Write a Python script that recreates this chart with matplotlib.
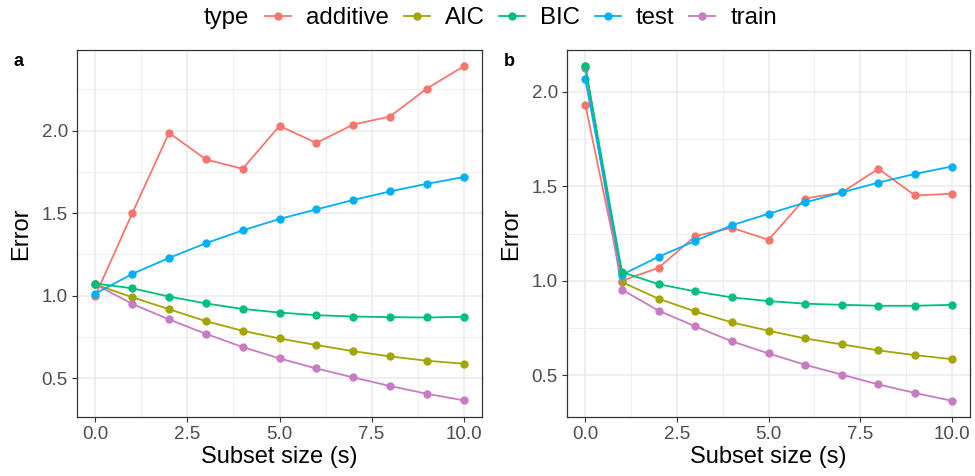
import matplotlib
matplotlib.use("Agg")
import matplotlib.pyplot as plt
from matplotlib.lines import Line2D
from matplotlib.ticker import MultipleLocator

plt.rcParams['font.family'] = ['Liberation Sans', 'DejaVu Sans']

subset = list(range(11))
types = ['additive', 'AIC', 'BIC', 'test', 'train']
colors = {'additive': '#F8766D', 'AIC': '#A3A500', 'BIC': '#00BF7D',
          'test': '#00B0F6', 'train': '#C77BC4'}

# panel a
a_additive = [1.000, 1.498, 1.986, 1.825, 1.768, 2.028, 1.925, 2.036, 2.085, 2.254, 2.389]
a_aic = [1.067, 0.990, 0.917, 0.845, 0.786, 0.740, 0.700, 0.663, 0.631, 0.605, 0.587]
a_bic = [1.073, 1.044, 0.994, 0.952, 0.919, 0.897, 0.881, 0.873, 0.869, 0.867, 0.871]
a_test = [1.012, 1.131, 1.228, 1.317, 1.395, 1.464, 1.522, 1.579, 1.631, 1.677, 1.718]
a_train = [1.067, 0.950, 0.855, 0.768, 0.688, 0.619, 0.558, 0.504, 0.452, 0.405, 0.365]

# panel b
b_additive = [1.931, 1.000, 1.069, 1.236, 1.280, 1.217, 1.435, 1.467, 1.592, 1.451, 1.460]
b_aic = [2.134, 0.993, 0.905, 0.838, 0.780, 0.736, 0.695, 0.664, 0.632, 0.607, 0.586]
b_bic = [2.134, 1.046, 0.982, 0.944, 0.912, 0.893, 0.879, 0.873, 0.868, 0.868, 0.873]
b_test = [2.065, 1.032, 1.127, 1.211, 1.294, 1.354, 1.414, 1.467, 1.519, 1.565, 1.604]
b_train = [2.123, 0.953, 0.842, 0.759, 0.680, 0.616, 0.556, 0.504, 0.452, 0.407, 0.366]

panels = [
    ('a', {'additive': a_additive, 'AIC': a_aic, 'BIC': a_bic, 'test': a_test, 'train': a_train},
     (0.264, 2.488)),
    ('b', {'additive': b_additive, 'AIC': b_aic, 'BIC': b_bic, 'test': b_test, 'train': b_train},
     (0.28, 2.22)),
]

W, H = 975, 476
fig = plt.figure(figsize=(W / 100, H / 100), dpi=100)
boxes = [(77, 482), (567, 970)]
top_px, bot_px = 50, 417

# drawing order so that BIC point stays visible at s=0 like the original
draw_order = ['additive', 'AIC', 'train', 'test', 'BIC']

for (label, series, ylim), (x0, x1) in zip(panels, boxes):
    ax = fig.add_axes([x0 / W, (H - bot_px) / H, (x1 - x0) / W, (bot_px - top_px) / H])
    for name in draw_order:
        ax.plot(subset, series[name], color=colors[name], lw=1.3, marker='o',
                ms=6, markeredgewidth=0, zorder=3)
    ax.set_xlim(-0.5, 10.5)
    ax.set_ylim(*ylim)
    ax.xaxis.set_major_locator(MultipleLocator(2.5))
    ax.xaxis.set_minor_locator(MultipleLocator(1.25))
    ax.yaxis.set_major_locator(MultipleLocator(0.5))
    ax.yaxis.set_minor_locator(MultipleLocator(0.25))
    ax.xaxis.set_major_formatter(matplotlib.ticker.FormatStrFormatter('%.1f'))
    ax.yaxis.set_major_formatter(matplotlib.ticker.FormatStrFormatter('%.1f'))
    ax.grid(which='major', color='#EBEBEB', lw=1.1, zorder=0)
    ax.grid(which='minor', color='#EBEBEB', lw=0.55, zorder=0)
    ax.set_axisbelow(True)
    ax.tick_params(which='major', length=3.5, width=0.8, color='#333333',
                   labelsize=13.5, labelcolor='#4D4D4D', pad=3)
    ax.tick_params(which='minor', length=0)
    for sp in ax.spines.values():
        sp.set_color('#333333')
        sp.set_linewidth(0.9)
    ax.set_xlabel('Subset size (s)', fontsize=17, labelpad=2)
    ax.set_ylabel('Error', fontsize=17, labelpad=7)
    fig.text((x0 - 58) / W, 1 - 61 / H, label, fontsize=13, fontweight='bold',
             ha='center', va='center')

handles = [Line2D([], [], color=colors[t], lw=1.3, marker='o', ms=6,
                  markeredgewidth=0) for t in types]
leg = fig.legend(handles, types, loc='center', bbox_to_anchor=(521 / W, 1 - 18 / H),
                 ncol=5, frameon=False, fontsize=17.3, handlelength=1.08,
                 handletextpad=0.62, columnspacing=0.62, borderpad=0)
fig.text(204 / W, 1 - 18 / H, 'type', fontsize=17.3, ha='left', va='center')

fig.savefig('out.png', dpi=100)
